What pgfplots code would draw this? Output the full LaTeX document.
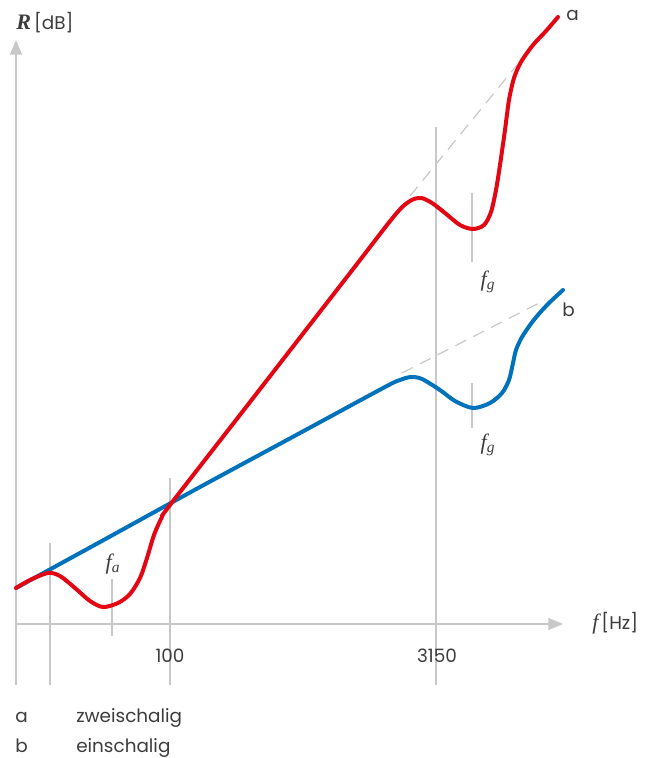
\documentclass[border=0pt]{standalone}
\usepackage{pgfplots}
\pgfplotsset{compat=1.18}
\usepackage{fontspec}
\setmainfont{Poppins}
\newfontfamily\serif[Scale=1.2]{Liberation Serif}
\usetikzlibrary{arrows.meta}
\definecolor{cred}{RGB}{227,6,19}
\definecolor{cblue}{RGB}{0,114,187}
\definecolor{cgray}{RGB}{200,200,200}
\definecolor{ctext}{RGB}{60,60,60}
\tikzset{lbl/.style={text=ctext, font=\fontsize{13.8}{16}\selectfont}}
\begin{document}
\begin{tikzpicture}
\begin{axis}[hide axis, scale only axis, width=490.5pt, height=568.5pt,
  xmin=0, xmax=654, ymin=0, ymax=758, y dir=reverse, clip=false]
\addplot[draw=none] coordinates {(0,0) (654,758)};
% axes
\addplot[cgray, line width=0.9pt, -{Triangle[length=11pt,width=9pt]}] coordinates {(16,685) (16,40)};
\addplot[cgray, line width=0.9pt, -{Triangle[length=11pt,width=9pt]}] coordinates {(16,624) (563,624)};
% vertical guide lines
\addplot[cgray, line width=0.9pt] coordinates {(50,543) (50,685)};
\addplot[cgray, line width=0.9pt] coordinates {(170,478) (170,685)};
\addplot[cgray, line width=0.9pt] coordinates {(436,127) (436,685)};
\addplot[cgray, line width=0.9pt] coordinates {(112,579) (112,636)};
\addplot[cgray, line width=0.9pt] coordinates {(472,193) (472,262)};
\addplot[cgray, line width=0.9pt] coordinates {(472,383) (472,428)};
% dashed extensions
\addplot[cgray, line width=0.9pt, dash pattern=on 9pt off 6pt] coordinates {(410,196) (517,65)};
\addplot[cgray, line width=0.9pt, dash pattern=on 9pt off 6pt] coordinates {(402,373) (545,300)};
% blue curve (einschalig)
\addplot[cblue, line width=3pt, smooth, line cap=round] coordinates {
(16,588) (100,542) (200,487) (300,433) (385,387) (400,380) (411,377) (422,379)
(440,390) (455,401) (473,408) (490,403) (502,393) (509,380) (513,363)
(516,350) (522,337) (533,321) (547,305) (563,290)};
% red curve (zweischalig)
\addplot[cred, line width=3pt, smooth, line cap=round] coordinates {
(16,588) (30,580) (48,573) (60,576) (75,588) (90,601) (103,607) (118,603)
(130,594) (140,578) (147,558) (154,535) (162,517) (170,505) (250,402) (350,273)
(395,215) (410,201) (421,198) (432,203) (445,213) (460,225) (473,229) (484,225)
(491,212) (496,190) (500,165) (505,130) (509,100) (514,78) (521,62) (533,45)
(546,31) (558,17)};
% texts
\node[lbl, anchor=west, inner sep=0pt] at (axis cs:16,23) {{\serif\bfseries\itshape R}\,[dB]};
\node[lbl, anchor=west, inner sep=0pt] at (axis cs:592,623) {{\serif\itshape f}\,[Hz]};
\node[lbl] at (axis cs:170,656) {100};
\node[lbl] at (axis cs:437,656) {3150};
\node[lbl, anchor=west, inner sep=0pt] at (axis cs:566,15) {a};
\node[lbl, anchor=west, inner sep=0pt] at (axis cs:562,310) {b};
\node[lbl] at (axis cs:113,564) {{\serif\itshape f}\textsubscript{\serif\itshape a}};
\node[lbl] at (axis cs:488,282) {{\serif\itshape f}\textsubscript{\serif\itshape g}};
\node[lbl] at (axis cs:488,445) {{\serif\itshape f}\textsubscript{\serif\itshape g}};
\node[lbl, anchor=base west, inner sep=0pt] at (axis cs:15,722) {a};
\node[lbl, anchor=base west, inner sep=0pt] at (axis cs:76,722) {zweischalig};
\node[lbl, anchor=base west, inner sep=0pt] at (axis cs:15,752) {b};
\node[lbl, anchor=base west, inner sep=0pt] at (axis cs:76,752) {einschalig};
\end{axis}
\end{tikzpicture}
\end{document}
